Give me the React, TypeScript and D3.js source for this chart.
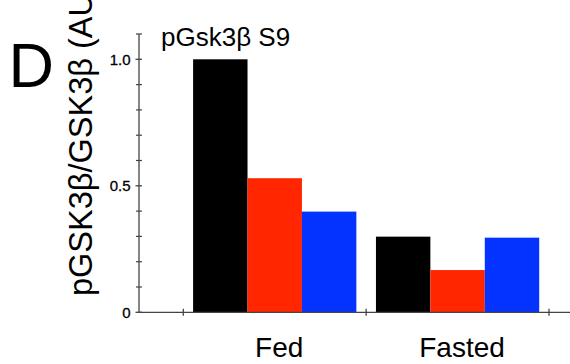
import React from "react";
import * as d3 from "d3";

const categories = ["Fed", "Fasted"];
const series = ["black", "red", "blue"];
const seriesColors = ["#000000", "#ff2600", "#0433ff"];
const fedValues = [1.0, 0.53, 0.398];
const fastedValues = [0.299, 0.167, 0.295];
const yMajorTicks = [0, 0.5, 1.0];
const yMajorLabels = ["0", "0.5", "1.0"];
const yMinorTicks = [0.1, 0.2, 0.3, 0.4, 0.6, 0.7, 0.8, 0.9, 1.1];
const title = "pGsk3β S9";
const yLabel = "pGSK3β/GSK3β (AU)";
const panelLetter = "D";

const W = 570;
const H = 364;
const font = "'Liberation Sans', Arial, Helvetica, sans-serif";

export default function App() {
  const values = [fedValues, fastedValues];
  const y = d3.scaleLinear().domain([0, 1.1]).range([312.3, 34]);
  const x0 = d3.scaleBand<string>().domain(categories).range([183.3, 549]).padding(0);
  const bw0 = x0.bandwidth();
  const x1 = d3.scaleBand<string>().domain(series).range([9.8, bw0 - 9.8]).padding(0);
  const axisColor = "#444";
  const xTicks = [183.3, ...categories.map((c) => (x0(c) as number) + bw0)];

  return (
    <svg
      width={W}
      height={H}
      style={{ position: "absolute", left: 0, top: 0, background: "#fff" }}
      fontFamily={font}
    >
      <rect x={0} y={0} width={W} height={H} fill="#fff" />
      {/* bars */}
      {categories.map((c, ci) =>
        series.map((s, si) => (
          <rect
            key={c + s}
            x={(x0(c) as number) + (x1(s) as number)}
            y={y(values[ci][si])}
            width={x1.bandwidth()}
            height={y(0) - y(values[ci][si])}
            fill={seriesColors[si]}
          />
        ))
      )}
      {/* y axis */}
      <line x1={139} x2={139} y1={y(0)} y2={y(1.1)} stroke={axisColor} strokeWidth={1.3} />
      {yMinorTicks.map((t) => (
        <line key={"mi" + t} x1={136} x2={142} y1={y(t)} y2={y(t)} stroke={axisColor} strokeWidth={1.2} />
      ))}
      {yMajorTicks.map((t, i) => (
        <g key={"ma" + t}>
          <line x1={135.5} x2={142} y1={y(t)} y2={y(t)} stroke={axisColor} strokeWidth={1.3} />
          <text
            x={130.5}
            y={y(t)}
            dy="0.36em"
            textAnchor="end"
            fontSize={15}
            fill="#000"
            stroke="#000"
            strokeWidth={0.3}
          >
            {yMajorLabels[i]}
          </text>
        </g>
      ))}
      {/* x axis */}
      <line x1={139} x2={W} y1={y(0)} y2={y(0)} stroke={axisColor} strokeWidth={1.3} />
      {xTicks.map((t, i) => (
        <line key={"xt" + i} x1={t} x2={t} y1={y(0) - 3.5} y2={y(0) + 3.5} stroke={axisColor} strokeWidth={1.3} />
      ))}
      {categories.map((c) => (
        <text
          key={"xl" + c}
          x={(x0(c) as number) + bw0 / 2 + 4.5}
          y={356.5}
          textAnchor="middle"
          fontSize={28}
          fill="#000"
        >
          {c}
        </text>
      ))}
      {/* title */}
      <text x={161} y={46} fontSize={26} fill="#000">
        {title}
      </text>
      {/* panel letter */}
      <text x={8.5} y={86.7} fontSize={63} fill="#000">
        {panelLetter}
      </text>
      {/* y label */}
      <text
        transform={`translate(91.5, 296) rotate(-90)`}
        fontSize={32.5}
        fill="#000"
      >
        {yLabel}
      </text>
    </svg>
  );
}
